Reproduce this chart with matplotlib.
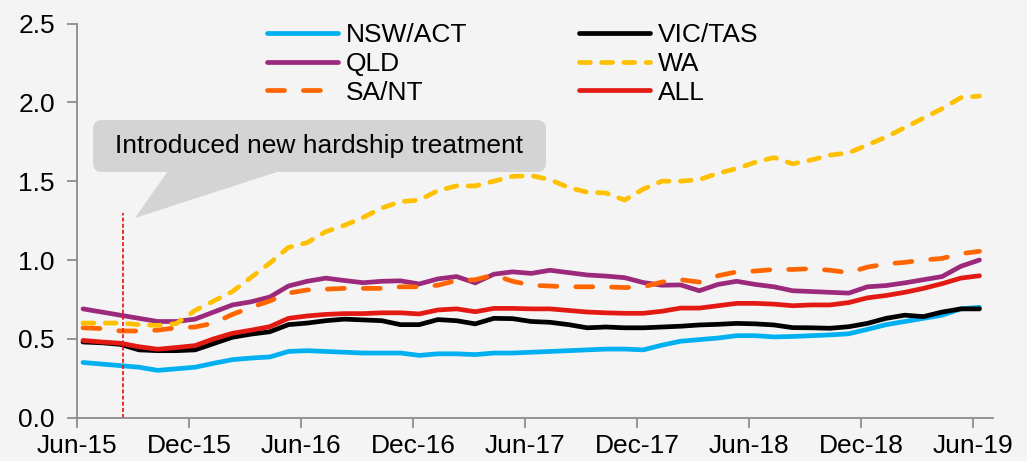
import matplotlib
matplotlib.use("Agg")
import matplotlib.pyplot as plt
import matplotlib.patches as patches
import numpy as np

plt.rcParams['font.family'] = ['Liberation Sans', 'DejaVu Sans']

# monthly series, Jun-15 .. Jun-19 (49 months)
NSW_ACT = [0.35, 0.34, 0.33, 0.32, 0.30, 0.31, 0.32, 0.345, 0.368, 0.378, 0.385, 0.42, 0.425,
           0.42, 0.415, 0.41, 0.41, 0.41, 0.395, 0.405, 0.405, 0.40, 0.41, 0.41, 0.415,
           0.42, 0.425, 0.43, 0.435, 0.435, 0.43, 0.46, 0.485, 0.495, 0.505, 0.52, 0.52,
           0.512, 0.515, 0.52, 0.525, 0.532, 0.56, 0.59, 0.61, 0.63, 0.65, 0.69, 0.70]
VIC_TAS = [0.48, 0.475, 0.465, 0.43, 0.425, 0.425, 0.43, 0.47, 0.51, 0.53, 0.545, 0.59, 0.60,
           0.615, 0.625, 0.62, 0.615, 0.59, 0.59, 0.622, 0.615, 0.595, 0.63, 0.628, 0.61,
           0.605, 0.59, 0.57, 0.575, 0.57, 0.57, 0.575, 0.58, 0.588, 0.592, 0.598, 0.595,
           0.588, 0.571, 0.57, 0.567, 0.577, 0.598, 0.63, 0.65, 0.641, 0.67, 0.69, 0.69]
QLD = [0.69, 0.67, 0.65, 0.63, 0.61, 0.61, 0.625, 0.67, 0.715, 0.735, 0.765, 0.835, 0.865,
       0.885, 0.87, 0.856, 0.865, 0.868, 0.848, 0.88, 0.895, 0.855, 0.91, 0.925, 0.915,
       0.935, 0.92, 0.905, 0.898, 0.888, 0.857, 0.84, 0.842, 0.805, 0.845, 0.865, 0.845,
       0.83, 0.805, 0.80, 0.795, 0.79, 0.83, 0.838, 0.855, 0.875, 0.895, 0.96, 1.0]
WA = [0.60, 0.60, 0.60, 0.59, 0.585, 0.597, 0.68, 0.74, 0.80, 0.89, 0.98, 1.08, 1.11,
      1.18, 1.22, 1.27, 1.33, 1.37, 1.38, 1.44, 1.47, 1.47, 1.50, 1.53, 1.535,
      1.51, 1.46, 1.43, 1.425, 1.38, 1.45, 1.50, 1.50, 1.51, 1.55, 1.58, 1.62,
      1.65, 1.61, 1.635, 1.665, 1.68, 1.73, 1.78, 1.84, 1.90, 1.96, 2.03, 2.04]
SA_NT = [0.57, 0.565, 0.55, 0.55, 0.555, 0.57, 0.575, 0.60, 0.655, 0.70, 0.74, 0.79, 0.81,
         0.815, 0.82, 0.82, 0.82, 0.83, 0.83, 0.84, 0.87, 0.875, 0.905, 0.865, 0.84,
         0.835, 0.83, 0.83, 0.83, 0.825, 0.83, 0.86, 0.875, 0.86, 0.90, 0.925, 0.93,
         0.94, 0.94, 0.945, 0.935, 0.92, 0.955, 0.975, 0.985, 1.0, 1.01, 1.04, 1.055]
ALL = [0.49, 0.48, 0.472, 0.45, 0.434, 0.445, 0.457, 0.50, 0.535, 0.555, 0.577, 0.63, 0.645,
       0.655, 0.66, 0.66, 0.665, 0.665, 0.658, 0.683, 0.69, 0.672, 0.693, 0.693, 0.69,
       0.69, 0.68, 0.67, 0.665, 0.662, 0.662, 0.675, 0.695, 0.695, 0.71, 0.725, 0.725,
       0.72, 0.71, 0.715, 0.715, 0.73, 0.76, 0.775, 0.795, 0.82, 0.85, 0.885, 0.90]

TICK_LABELS = ["Jun-15", "Dec-15", "Jun-16", "Dec-16", "Jun-17",
               "Dec-17", "Jun-18", "Dec-18", "Jun-19"]
EVENT_MONTH = 2.14   # new hardship treatment introduced
EVENT_TEXT = "Introduced new hardship treatment"

BG = '#f4f4f4'
FS = 19
months = np.arange(len(ALL)) + 0.32

fig = plt.figure(figsize=(10.27, 4.61), dpi=100, facecolor=BG)
ax = fig.add_axes([0.075, 0.094, 0.892, 0.855], facecolor=BG)

lw = 3.4
h_nsw, = ax.plot(months, NSW_ACT, color='#00b0f0', lw=lw, solid_capstyle='round', label='NSW/ACT')
h_qld, = ax.plot(months, QLD, color='#9c2a7c', lw=lw, solid_capstyle='round', label='QLD')
h_sa, = ax.plot(months, SA_NT, color='#ff6600', lw=lw, dashes=(3.6, 4.0),
                dash_capstyle='round', label='SA/NT')
h_vic, = ax.plot(months, VIC_TAS, color='black', lw=lw, solid_capstyle='round', label='VIC/TAS')
h_wa, = ax.plot(months, WA, color='#ffc000', lw=lw, dashes=(2.3, 2.4),
                dash_capstyle='round', label='WA')
h_all, = ax.plot(months, ALL, color='#e31a13', lw=lw, solid_capstyle='round', label='ALL')

# event marker
ax.plot([EVENT_MONTH + 0.32] * 2, [0, 1.30], color='#ee1c1c', lw=1.3, dashes=(2.2, 1.2))

ax.set_xlim(0, 49.05)
ax.set_ylim(0, 2.5)
ax.set_xticks(np.arange(0, 49, 6))
ax.set_xticklabels(TICK_LABELS)
ax.set_yticks(np.arange(0, 2.51, 0.5))
ax.set_yticklabels([f"{v:.1f}" for v in np.arange(0, 2.51, 0.5)])

for s in ['top', 'right']:
    ax.spines[s].set_visible(False)
for s in ['left', 'bottom']:
    ax.spines[s].set_color('#8c8c8c')
    ax.spines[s].set_linewidth(1.3)
ax.tick_params(axis='both', colors='#8c8c8c', labelcolor='black', labelsize=FS,
               length=7, width=1.3)
ax.tick_params(axis='y', pad=9)
ax.tick_params(axis='x', pad=5)

leg = ax.legend([h_nsw, h_qld, h_sa, h_vic, h_wa, h_all],
                ['NSW/ACT', 'QLD', 'SA/NT', 'VIC/TAS', 'WA', 'ALL'],
                ncol=2, frameon=False, fontsize=FS, handlelength=2.7,
                handletextpad=0.3, labelspacing=0.18, columnspacing=4.2,
                loc='upper left', bbox_to_anchor=(267 / 1027, 1 - 23 / 461),
                bbox_transform=fig.transFigure, borderaxespad=0, borderpad=0)

# callout box with pointer (figure inches)
tr = fig.dpi_scale_trans
box = patches.FancyBboxPatch((1.01, 2.97), 4.37, 0.36,
                             boxstyle='round,pad=0.08,rounding_size=0.09',
                             facecolor='#d4d4d4', edgecolor='none', transform=tr,
                             clip_on=False, zorder=5)
fig.patches.append(box)
tri = patches.Polygon([(1.35, 2.43), (1.68, 2.90), (2.80, 2.90)], closed=True,
                      facecolor='#d4d4d4', edgecolor='none', transform=tr, zorder=5)
fig.patches.append(tri)
fig.text(3.195, 3.15, EVENT_TEXT, transform=tr, ha='center', va='center',
         fontsize=FS, zorder=6)

fig.savefig('out.png', dpi=100, facecolor=BG)
